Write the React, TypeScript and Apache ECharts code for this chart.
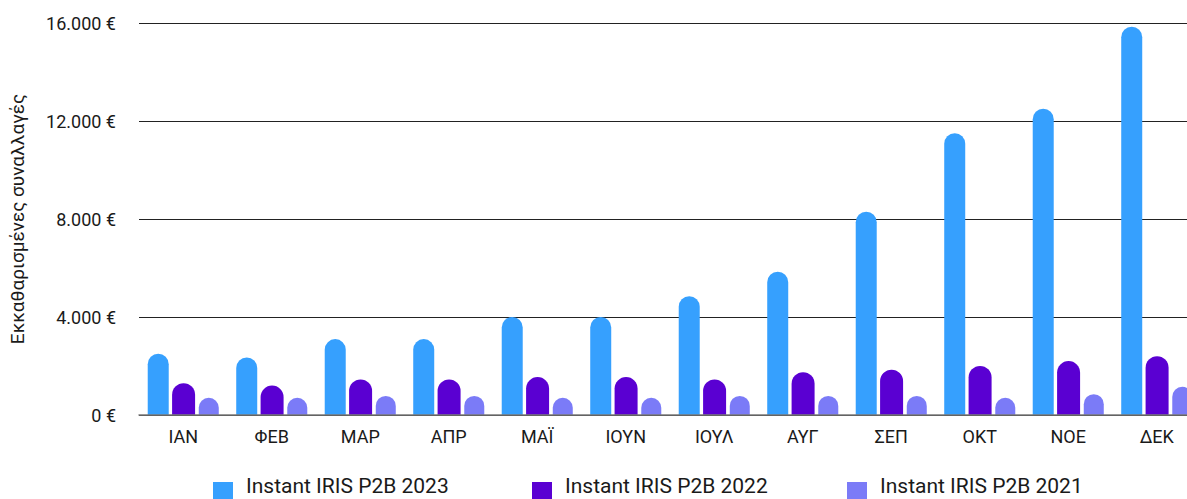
import React, { useEffect, useRef } from "react";
import * as echarts from "echarts";

const categories = ["ΙΑΝ", "ΦΕΒ", "ΜΑΡ", "ΑΠΡ", "ΜΑΪ", "ΙΟΥΝ", "ΙΟΥΛ", "ΑΥΓ", "ΣΕΠ", "ΟΚΤ", "ΝΟΕ", "ΔΕΚ"];
const seriesNames = ["Instant IRIS P2B 2023", "Instant IRIS P2B 2022", "Instant IRIS P2B 2021"];
const values2023 = [2500, 2350, 3100, 3100, 4000, 4000, 4850, 5850, 8300, 11500, 12500, 15850];
const values2022 = [1300, 1200, 1450, 1450, 1550, 1550, 1450, 1750, 1850, 2000, 2200, 2400];
const values2021 = [700, 700, 780, 780, 700, 700, 780, 780, 780, 700, 850, 1150];
const yTicks = [0, 4000, 8000, 12000, 16000];
const yAxisName = "Εκκαθαρισμένες συναλλαγές";

const colors = ["#36A0FE", "#5A00D2", "#7B7BF7"];
const FONT = "Roboto";

function fmt(v: number): string {
  const s = String(Math.round(v)).replace(/\B(?=(\d{3})+(?!\d))/g, ".");
  return s + " €";
}

export default function App() {
  const ref = useRef<HTMLDivElement>(null);
  useEffect(() => {
    if (!ref.current) return;
    const chart = echarts.init(ref.current, undefined, { renderer: "svg" });
    const widths = [21, 23, 20];
    const data = [values2023, values2022, values2021];
    const legendLefts = [208, 527, 842];
    chart.setOption({
      animation: false,
      textStyle: { fontFamily: FONT },
      grid: { left: 139, right: 0, top: 23, bottom: 84, containLabel: false },
      legend: seriesNames.map((n, i) => ({
        data: [n],
        left: legendLefts[i],
        top: 465,
        icon: "path://M0,0 L0,0 M0,12 L20,12 L20,32 L0,32 Z",
        itemWidth: 20,
        itemHeight: 32,
        selectedMode: false,
        textStyle: { fontFamily: FONT, fontSize: 21, color: "#1a1a1a", padding: [0, 0, 0, 8] },
      })),
      xAxis: {
        type: "category",
        data: categories,
        axisTick: { show: false },
        axisLine: { show: true, lineStyle: { color: "#7a7a7a", width: 1.5 } },
        axisLabel: { fontFamily: FONT, fontSize: 18, color: "#1a1a1a", margin: 12 },
        z: 3,
      },
      yAxis: {
        type: "value",
        min: yTicks[0],
        max: yTicks[yTicks.length - 1],
        interval: 4000,
        name: yAxisName,
        nameLocation: "middle",
        nameGap: 112,
        nameTextStyle: { fontFamily: FONT, fontSize: 19, color: "#1a1a1a" },
        axisLine: { show: false },
        axisTick: { show: false },
        axisLabel: { fontFamily: FONT, fontSize: 18, color: "#1a1a1a", margin: 23, formatter: (v: number) => fmt(v) },
        splitLine: { show: true, lineStyle: { color: "#222", width: 1 } },
      },
      series: seriesNames.map((n, i) => ({
        name: n,
        type: "bar",
        data: data[i],
        barWidth: widths[i],
        barGap: "16%",
        itemStyle: { color: colors[i], borderRadius: [widths[i] / 2, widths[i] / 2, 0, 0] },
      })),
    });
    return () => chart.dispose();
  }, []);
  return (
    <div style={{ position: "fixed", left: 0, top: 0, width: 1187, height: 499, overflow: "hidden", background: "#fff" }}>
      <div ref={ref} style={{ width: 1201, height: 499 }} />
    </div>
  );
}
